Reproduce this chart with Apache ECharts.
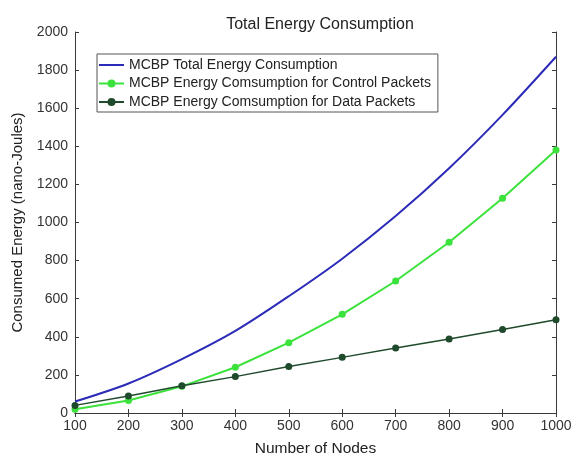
<!DOCTYPE html>
<html>
<head>
<meta charset="utf-8">
<script src="https://cdn.jsdelivr.net/npm/echarts@6/dist/echarts.min.js"></script>
<style>
    html, body { margin: 0; padding: 0; background: #fff; }
    #main { width: 572px; height: 457px; }
</style>
</head>
<body>
<div id="main"></div>
<script>
//节点数
var nodes = [100, 200, 300, 400, 500, 600, 700, 800, 900, 1000];
//总能耗
var totalEnergy = [60, 155, 283, 431, 613, 810, 1034, 1285, 1565, 1870];
//控制包能耗
var controlEnergy = [20, 66, 140, 240, 369, 518, 693, 896, 1127, 1381];
//数据包能耗
var dataEnergy = [40, 89, 143, 191, 244, 292, 341, 389, 438, 489];

var seriesNames = [
    'MCBP Total Energy Consumption',
    'MCBP Energy Comsumption for Control Packets',
    'MCBP Energy Comsumption for Data Packets'
];

function pairs(ys) {
    var out = [];
    for (var i = 0; i < nodes.length; i++) {
        out.push([nodes[i], ys[i]]);
    }
    return out;
}

//不要千分位逗号
function plain(v) {
    return String(v);
}

var font = 'Liberation Sans, Arial, sans-serif';
var axisColor = '#3a3a3a';

var myChart = echarts.init(document.getElementById('main'));

var option = {
    backgroundColor: '#fff',
    animation: false,
    title: {
        text: 'Total Energy Consumption',
        left: 315,
        top: 12,
        textAlign: 'center',
        textStyle: { fontFamily: font, fontSize: 16, fontWeight: 'normal', color: '#222' }
    },
    legend: {
        orient: 'vertical',
        left: 97,
        top: 54,
        padding: [4, 7, 3, 1],
        itemGap: 4.5,
        itemWidth: 25,
        itemHeight: 10,
        borderColor: '#555',
        borderWidth: 1,
        backgroundColor: '#fff',
        textStyle: { fontFamily: font, fontSize: 14, lineHeight: 14, color: '#222' },
        data: [
            { name: seriesNames[0], itemStyle: { opacity: 0 } },
            seriesNames[1],
            seriesNames[2]
        ]
    },
    grid: { left: 75, right: 16, top: 32, bottom: 44, outerBoundsMode: 'none' },
    xAxis: [{
        type: 'value',
        min: 100,
        max: 1000,
        interval: 100,
        name: 'Number of Nodes',
        nameLocation: 'middle',
        nameGap: 28,
        nameTextStyle: { fontFamily: font, fontSize: 15.5, color: '#222' },
        axisLine: { lineStyle: { color: axisColor } },
        axisTick: { inside: true, length: 4, lineStyle: { color: axisColor } },
        axisLabel: { fontFamily: font, fontSize: 14, color: '#333', margin: 6, formatter: plain },
        splitLine: { show: false }
    }, {
        type: 'value',
        position: 'top',
        min: 100,
        max: 1000,
        interval: 100,
        axisLine: { show: true, lineStyle: { color: axisColor } },
        axisTick: { inside: true, length: 4, lineStyle: { color: axisColor } },
        axisLabel: { show: false },
        splitLine: { show: false }
    }],
    yAxis: [{
        type: 'value',
        min: 0,
        max: 2000,
        interval: 200,
        name: 'Consumed Energy (nano-Joules)',
        nameLocation: 'middle',
        nameGap: 50,
        nameTextStyle: { fontFamily: font, fontSize: 15, color: '#222' },
        axisLine: { show: true, lineStyle: { color: axisColor } },
        axisTick: { show: true, inside: true, length: 4, lineStyle: { color: axisColor } },
        axisLabel: { fontFamily: font, fontSize: 14, color: '#333', margin: 7, formatter: plain },
        splitLine: { show: false }
    }, {
        type: 'value',
        position: 'right',
        min: 0,
        max: 2000,
        interval: 200,
        axisLine: { show: true, lineStyle: { color: axisColor } },
        axisTick: { show: true, inside: true, length: 4, lineStyle: { color: axisColor } },
        axisLabel: { show: false },
        splitLine: { show: false }
    }],
    series: [{
        name: seriesNames[0],
        type: 'line',
        data: pairs(totalEnergy),
        smooth: 0.3,
        symbol: 'none',
        lineStyle: { color: '#2b2bb8', width: 2 },
        itemStyle: { color: '#2b2bb8' },
        z: 3
    }, {
        name: seriesNames[1],
        type: 'line',
        data: pairs(controlEnergy),
        symbol: 'circle',
        symbolSize: 7,
        lineStyle: { color: '#3ce23c', width: 2 },
        itemStyle: { color: '#3ce23c' },
        z: 2
    }, {
        name: seriesNames[2],
        type: 'line',
        data: pairs(dataEnergy),
        symbol: 'circle',
        symbolSize: 7,
        lineStyle: { color: '#1f4a2c', width: 1.5 },
        itemStyle: { color: '#1f4a2c' },
        z: 4
    }]
};

myChart.setOption(option);
</script>
</body>
</html>
